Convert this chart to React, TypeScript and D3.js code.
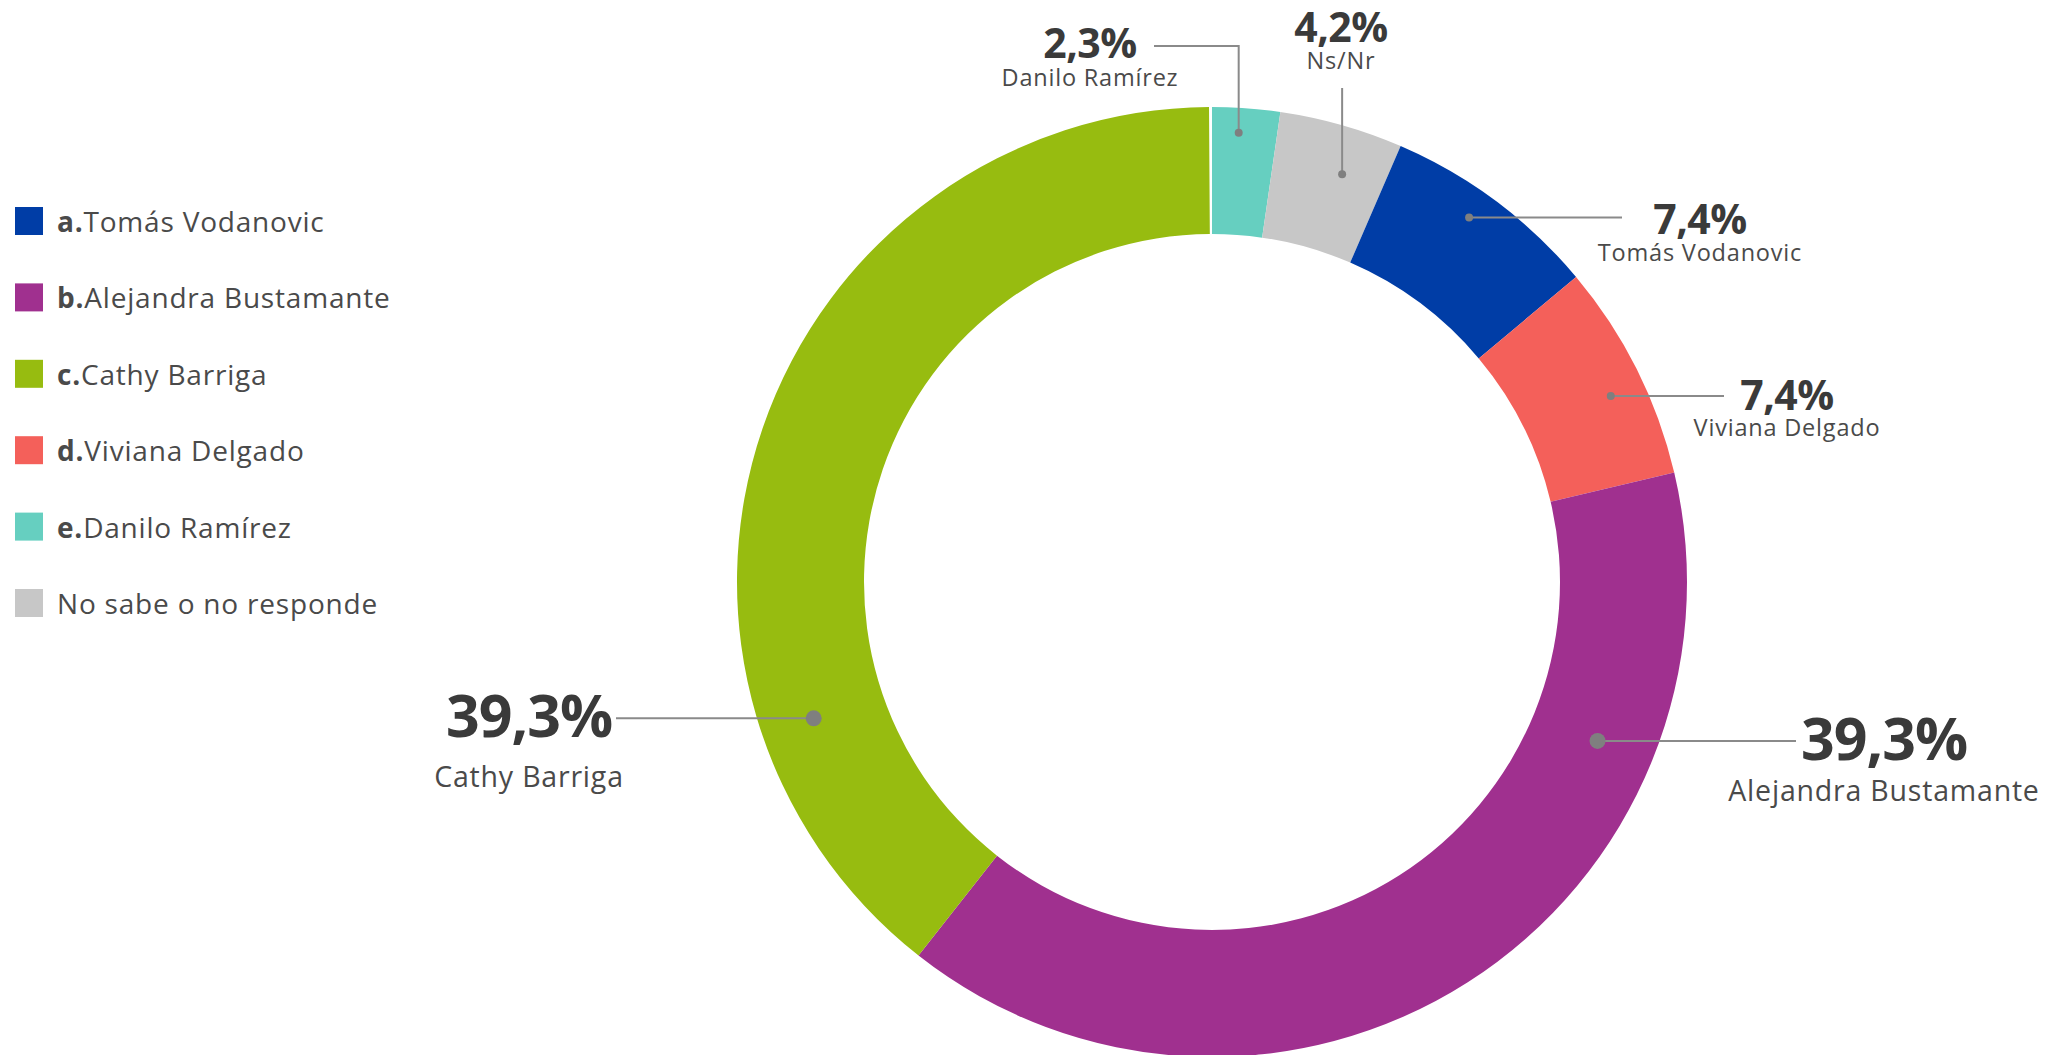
import React from "react";
import * as d3 from "d3";

const categories = ["Danilo Ramírez", "Ns/Nr", "Tomás Vodanovic", "Viviana Delgado", "Alejandra Bustamante", "Cathy Barriga"];
const values = [2.3, 4.2, 7.4, 7.4, 39.3, 39.3];
const colors = ["#66CFC0", "#C7C7C7", "#003DA6", "#F4605A", "#A0308F", "#97BC10"];
const valueLabels = ["2,3%", "4,2%", "7,4%", "7,4%", "39,3%", "39,3%"];

const legendPrefixes = ["a.", "b.", "c.", "d.", "e.", ""];
const legendNames = ["Tomás Vodanovic", "Alejandra Bustamante", "Cathy Barriga", "Viviana Delgado", "Danilo Ramírez", "No sabe o no responde"];
const legendColors = ["#003DA6", "#A0308F", "#97BC10", "#F4605A", "#66CFC0", "#C7C7C7"];

// label layout (index matches categories)
const labelLayout = [
  { dotAngle: 3.4, dotR: 450, dotSize: 4, x: 1090, y: 58, nameDy: 28, big: false, path: (d: [number, number]) => [[1154, 46], [d[0], 46], d] },
  { dotAngle: 17.7, dotR: 428, dotSize: 4, x: 1341, y: 42, nameDy: 27, big: false, path: (d: [number, number]) => [[d[0], 88], d] },
  { dotAngle: 35.2, dotR: 446, dotSize: 4, x: 1700, y: 234, nameDy: 27, big: false, path: (d: [number, number]) => [d, [1622, d[1]]] },
  { dotAngle: 65, dotR: 440, dotSize: 4, x: 1787, y: 410, nameDy: 26, big: false, path: (d: [number, number]) => [d, [1724, d[1]]] },
  { dotAngle: 112.4, dotR: 417, dotSize: 8, x: 1884, y: 760, nameDy: 41, big: true, path: (d: [number, number]) => [d, [1796, d[1]]] },
  { dotAngle: 251.1, dotR: 421, dotSize: 8, x: 529, y: 737, nameDy: 50, big: true, path: (d: [number, number]) => [[616, d[1]], d] },
];

const W = 2046;
const H = 1055;
const cx = 1212;
const cy = 582;
const outerR = 475;
const innerR = 348;
const FONT = "'Open Sans', sans-serif";

export default function App() {
  const total = 100;
  const angle = d3.scaleLinear().domain([0, total]).range([0, 2 * Math.PI]);
  const cum = d3.cumsum(values);
  const arc = d3.arc<any>().innerRadius(innerR).outerRadius(outerR);
  const slices = values.map((v, i) => ({
    startAngle: angle(cum[i] - v),
    endAngle: angle(cum[i]),
  }));
  const line = d3.line();

  return (
    <svg width={W} height={H} style={{ position: "absolute", left: 0, top: 0, background: "#fff" }}>
      <g transform={`translate(${cx},${cy})`}>
        {slices.map((s, i) => (
          <path key={i} d={arc(s) as string} fill={colors[i]} />
        ))}
      </g>
      {labelLayout.map((l, i) => {
        const a = (l.dotAngle * Math.PI) / 180;
        const dot: [number, number] = [cx + l.dotR * Math.sin(a), cy - l.dotR * Math.cos(a)];
        const pts = l.path(dot) as [number, number][];
        return (
          <g key={i}>
            <path d={line(pts) as string} fill="none" stroke="#8a8a8a" strokeWidth={2} />
            <circle cx={dot[0]} cy={dot[1]} r={l.dotSize} fill="#7f7f7f" />
            <text x={l.x} y={l.y} textAnchor="middle" fontFamily={FONT} fontWeight={700} fontSize={l.big ? 59 : 41} fill="#3a3a3a" letterSpacing={l.big ? -1 : -0.5}>
              {valueLabels[i]}
            </text>
            <text x={l.x} y={l.y + l.nameDy} textAnchor="middle" fontFamily={FONT} fontSize={l.big ? 28.5 : 23.5} letterSpacing={0.8} fill="#4a4a4a">
              {categories[i]}
            </text>
          </g>
        );
      })}
      {legendNames.map((n, i) => (
        <g key={i} transform={`translate(15,${207 + i * 76.4})`}>
          <rect x={0} y={0} width={28} height={28} fill={legendColors[i]} />
          <text x={42} y={25} fontFamily={FONT} fontSize={28} letterSpacing={0.8} fill="#4a4a4a">
            {legendPrefixes[i] && <tspan fontWeight={700}>{legendPrefixes[i]}</tspan>}
            <tspan>{n}</tspan>
          </text>
        </g>
      ))}
    </svg>
  );
}
